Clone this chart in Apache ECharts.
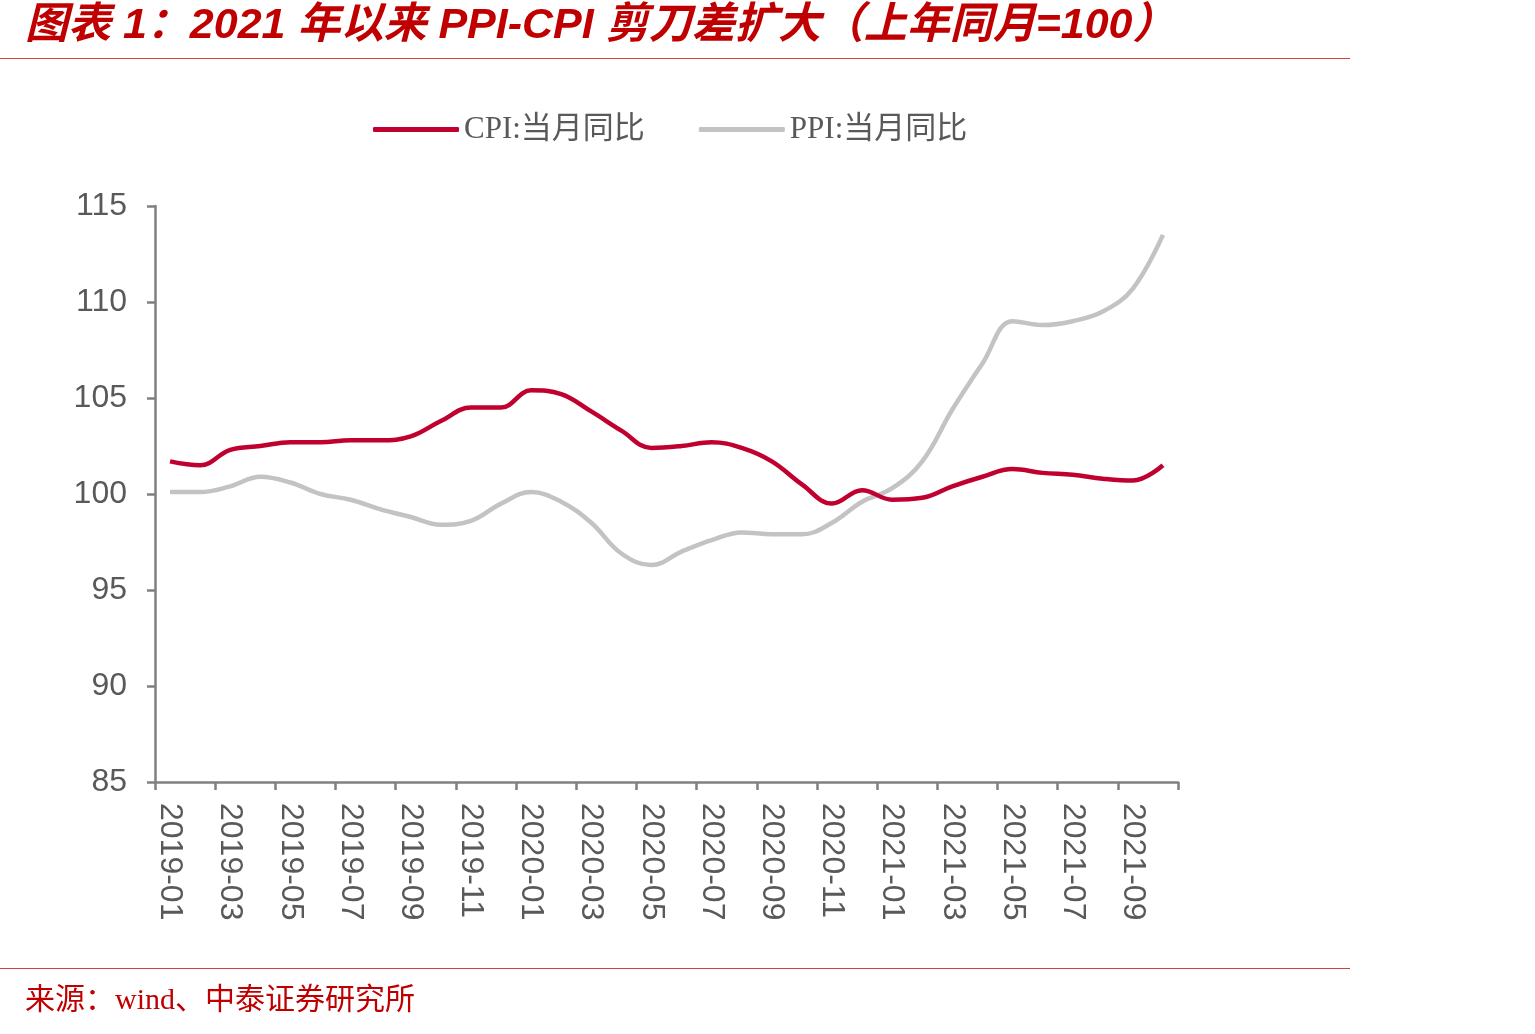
<!DOCTYPE html>
<html>
<head>
<meta charset="utf-8">
<script src="https://cdn.jsdelivr.net/npm/echarts@6/dist/echarts.min.js"></script>
<style>
  html, body { margin: 0; padding: 0; background: #fff; }
  #chart { width: 1535px; height: 1034px; }
</style>
</head>
<body>
<div id="chart"></div>
<script>
const months = [
  '2019-01', '2019-02', '2019-03', '2019-04', '2019-05', '2019-06', '2019-07', '2019-08', '2019-09', '2019-10', '2019-11', '2019-12',
  '2020-01', '2020-02', '2020-03', '2020-04', '2020-05', '2020-06', '2020-07', '2020-08', '2020-09', '2020-10', '2020-11', '2020-12',
  '2021-01', '2021-02', '2021-03', '2021-04', '2021-05', '2021-06', '2021-07', '2021-08', '2021-09', '2021-10'
]
const cpi = [
  101.7, 101.5, 102.3, 102.5, 102.7, 102.7, 102.8, 102.8, 103.0, 103.8, 104.5, 104.5,
  105.4, 105.2, 104.3, 103.3, 102.4, 102.5, 102.7, 102.4, 101.7, 100.5, 99.5, 100.2,
  99.7, 99.8, 100.4, 100.9, 101.3, 101.1, 101.0, 100.8, 100.7, 101.5
]
const ppi = [
  100.1, 100.1, 100.4, 100.9, 100.6, 100.0, 99.7, 99.2, 98.8, 98.4, 98.6, 99.5,
  100.1, 99.6, 98.5, 96.9, 96.3, 97.0, 97.6, 98.0, 97.9, 97.9, 98.5, 99.6,
  100.3, 101.7, 104.4, 106.8, 109.0, 108.8, 109.0, 109.5, 110.7, 113.5
]
const seriesNames = ['CPI:当月同比', 'PPI:当月同比']
const titleText = '图表 1：2021 年以来 PPI-CPI 剪刀差扩大（上年同月=100）'
const sourceText = '来源：wind、中泰证券研究所'

const red = '#C00000'
const axisColor = '#808080'
const labelColor = '#595959'

let myChart = echarts.init(document.getElementById('chart'))
myChart.setOption({
  animation: false,
  backgroundColor: '#fff',
  graphic: [
    {
      type: 'text', left: 25, top: 5,
      style: {
        text: titleText, fill: red,
        font: 'italic bold 43px "Liberation Sans", "Noto Sans CJK SC", sans-serif'
      }
    },
    { type: 'rect', shape: { x: 0, y: 58, width: 1350, height: 1 }, style: { fill: '#D04040' } },
    { type: 'rect', shape: { x: 0, y: 968, width: 1350, height: 1 }, style: { fill: '#D04040' } },
    {
      type: 'text', left: 25, top: 986,
      style: {
        text: sourceText, fill: red,
        font: '30px "Liberation Serif", "Noto Sans CJK SC", serif'
      }
    }
  ],
  legend: {
    top: 109,
    left: 368,
    itemWidth: 86,
    itemHeight: 5,
    itemGap: 54,
    icon: 'roundRect',
    textStyle: {
      color: labelColor,
      fontSize: 31,
      fontFamily: '"Liberation Serif", "Noto Sans CJK SC", serif'
    },
    data: seriesNames
  },
  grid: { left: 155, right: 357, top: 206, bottom: 252 },
  xAxis: {
    type: 'category',
    boundaryGap: true,
    data: months,
    axisLine: { lineStyle: { color: axisColor, width: 2.5 } },
    axisTick: { show: true, length: 8, interval: 1, lineStyle: { color: axisColor, width: 2.5 } },
    axisLabel: {
      interval: 1,
      rotate: -90,
      margin: 21,
      color: labelColor,
      fontSize: 32,
      fontFamily: '"Liberation Sans", Arial, sans-serif'
    }
  },
  yAxis: {
    type: 'value',
    min: 85,
    max: 115,
    interval: 5,
    splitLine: { show: false },
    axisLine: { show: true, lineStyle: { color: axisColor, width: 2.5 } },
    axisTick: { show: true, length: 8, lineStyle: { color: axisColor, width: 2.5 } },
    axisLabel: {
      margin: 28,
      color: labelColor,
      fontSize: 32,
      fontFamily: '"Liberation Sans", Arial, sans-serif'
    }
  },
  series: [
    {
      name: seriesNames[0],
      type: 'line',
      data: cpi,
      smooth: 0.4,
      symbol: 'none',
      lineStyle: { color: '#C0002F', width: 4.5 },
      itemStyle: { color: '#C0002F' },
      z: 3
    },
    {
      name: seriesNames[1],
      type: 'line',
      data: ppi,
      smooth: 0.4,
      symbol: 'none',
      lineStyle: { color: '#C3C3C3', width: 4.5 },
      itemStyle: { color: '#C3C3C3' },
      z: 2
    }
  ]
})
</script>
</body>
</html>
